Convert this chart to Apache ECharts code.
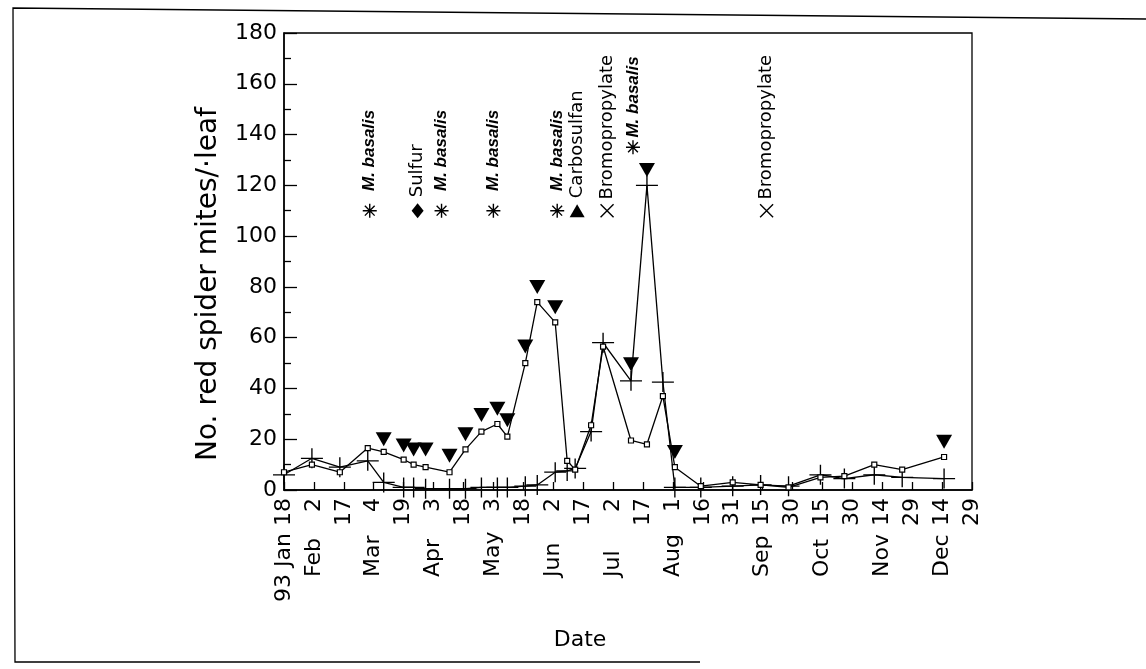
<!DOCTYPE html>
<html>
<head>
<meta charset="utf-8">
<script src="https://cdn.jsdelivr.net/npm/echarts@6/dist/echarts.min.js"></script>
<style>
  html, body { margin: 0; padding: 0; background: #fff; }
  #chart { width: 1146px; height: 669px; }
</style>
</head>
<body>
<div id="chart"></div>
<script>
// Sampling dates in 1993 (MM-DD)
const sampleDates = ['01-18','02-01','02-15','03-01','03-09','03-19','03-24','03-30','04-11','04-19',
  '04-27','05-05','05-10','05-19','05-25','06-03','06-09','06-13','06-21','06-27',
  '07-11','07-19','07-27','08-02','08-15','08-31','09-14','09-28','10-14','10-26',
  '11-10','11-24','12-15'];
// Mites per leaf, open-square series
const squareCounts = [7, 10, 7, 16.5, 15, 12, 10, 9, 7, 16,
  23, 26, 21, 50, 74, 66, 11.5, 8, 25.5, 56.5,
  19.5, 18, 37, 9, 1.5, 3, 2, 1, 5, 5.5,
  10, 8, 13];
// Mites per leaf, plus-sign series
const plusCounts = [6, 12.5, 9, 11.5, 3, 1, 1, 0.5, 0.5, 0.5,
  1, 1, 1, 1.5, 2, 7, 7.5, 8.5, 23, 58,
  43, 120, 42.5, 1, 1, 1.5, 2, 1.5, 6, 4.5,
  6, 5, 4.5];
// Filled down-triangles
const triangleDates = ['03-09','03-19','03-24','03-30','04-11','04-19','04-27','05-05','05-10','05-19',
  '05-25','06-03','07-11','07-19','08-02','12-15'];
const triangleCounts = [20, 17.5, 16, 16, 13.5, 22, 29.5, 32, 27.5, 56.5,
  80, 72, 49.5, 126, 15, 19];
// Treatments: release of M. basalis and sprays
const eventDates = ['03-02','03-26','04-07','05-03','06-04','06-14','06-29','07-12','09-17'];
const eventNames = ['M. basalis','Sulfur','M. basalis','M. basalis','M. basalis','Carbosulfan','Bromopropylate','M. basalis','Bromopropylate'];
const eventKinds = ['star','diamond','star','star','star','triangle','cross','star','cross'];
const eventLevels = [110, 110, 110, 110, 110, 110, 110, 135, 110];
// Tick labels every 15 days from Jan 18
const dayTickLabels = ['93 Jan 18','2','17','4','19','3','18','3','18','2','17','2','17','1','16','31','15','30','15','30','14','29','14','29'];
const monthTickLabels = ['','Feb','','Mar','','Apr','','May','','Jun','','Jul','','Aug','','','Sep','','Oct','','Nov','','Dec',''];

const START = Date.UTC(1993, 0, 18);
function dayOf(md) {
  const [m, d] = md.split('-').map(Number);
  return (Date.UTC(1993, m - 1, d) - START) / 86400000;
}

const FONT = 'DejaVu Sans';
const INK = '#000';
const plusPath = 'path://M0,10L22,10M11,0L11,20';
const starPath = 'path://M0,10L20,10M10,0L10,20M3,3L17,17M17,3L3,17';
const crossPath = 'path://M0,0L20,20M20,0L0,20';

const squareData = sampleDates.map((d, i) => [dayOf(d), squareCounts[i]]);
const plusData = sampleDates.map((d, i) => [dayOf(d), plusCounts[i]]);
const triangleData = triangleDates.map((d, i) => [dayOf(d), triangleCounts[i]]);

const symbolFor = {
  star: { symbol: starPath, symbolSize: 14, itemStyle: { color: 'transparent', borderColor: INK, borderWidth: 1.4, opacity: 1 } },
  cross: { symbol: crossPath, symbolSize: 13, itemStyle: { color: 'transparent', borderColor: INK, borderWidth: 1.4, opacity: 1 } },
  diamond: { symbol: 'diamond', symbolSize: [12, 15], itemStyle: { color: INK, opacity: 1 } },
  triangle: { symbol: 'triangle', symbolSize: [15, 13], itemStyle: { color: INK, opacity: 1 } }
};
const eventData = eventDates.map((d, i) => {
  const k = eventKinds[i];
  const italic = eventNames[i] === 'M. basalis';
  return Object.assign({
    name: eventNames[i],
    value: [dayOf(d), eventLevels[i]],
    label: {
      show: true,
      formatter: '{b}',
      position: 'top',
      rotate: 90,
      align: 'left',
      verticalAlign: 'middle',
      distance: italic ? (eventLevels[i] > 120 ? 2 : 12) : (k === 'cross' ? 4 : 6),
      color: INK,
      fontFamily: italic ? 'Liberation Sans' : FONT,
      fontStyle: italic ? 'italic' : 'normal',
      fontWeight: italic ? 'bold' : 'normal',
      fontSize: italic ? 17 : 18
    }
  }, symbolFor[k]);
});

const chart = echarts.init(document.getElementById('chart'), null, { renderer: 'canvas' });
chart.setOption({
  animation: false,
  backgroundColor: '#fff',
  grid: {
    left: 284, right: 174, top: 33, bottom: 179,
    show: true, borderColor: INK, borderWidth: 1.3, backgroundColor: 'transparent',
    outerBoundsMode: 'none'
  },
  xAxis: [{
    type: 'value', position: 'bottom', min: 0, max: 345, interval: 15,
    axisLine: { show: true, lineStyle: { color: INK, width: 1.5 } },
    axisTick: { show: true, inside: true, length: 8, lineStyle: { color: INK, width: 1.3 } },
    splitLine: { show: false },
    axisLabel: {
      rotate: 90, margin: 8, color: INK, fontFamily: FONT, fontSize: 22,
      formatter: v => dayTickLabels[Math.round(v / 15)] || ''
    }
  }, {
    type: 'value', position: 'bottom', min: 0, max: 345, interval: 15,
    axisLine: { show: false }, axisTick: { show: false }, splitLine: { show: false },
    axisLabel: {
      rotate: 90, margin: 87, align: 'left', color: INK, fontFamily: FONT, fontSize: 22,
      formatter: v => monthTickLabels[Math.round(v / 15)] || ''
    }
  }],
  yAxis: {
    type: 'value', min: 0, max: 180, interval: 20,
    axisLine: { show: true, lineStyle: { color: INK, width: 1.5 } },
    axisTick: { show: true, inside: true, length: 13, lineStyle: { color: INK, width: 1.3 } },
    minorTick: { show: true, splitNumber: 2, length: 7, lineStyle: { color: INK, width: 1.3 } },
    splitLine: { show: false },
    axisLabel: { margin: 7, color: INK, fontFamily: FONT, fontSize: 22 }
  },
  graphic: [
    {
      type: 'polyline', silent: true,
      shape: { points: [[1146, 19], [13, 8], [15, 662], [700, 662]] },
      style: { stroke: INK, lineWidth: 1.3, fill: null }
    },
    {
      type: 'text', silent: true, x: 209, y: 284, rotation: Math.PI / 2,
      style: { text: 'No. red spider mites/·leaf', fill: INK, font: '28px "DejaVu Sans"', align: 'center', verticalAlign: 'middle' }
    },
    {
      type: 'text', silent: true, x: 580, y: 640,
      style: { text: 'Date', fill: INK, font: '22px "DejaVu Sans"', align: 'center', verticalAlign: 'middle' }
    }
  ],
  series: [
    {
      type: 'line', name: 'squares', data: squareData, xAxisIndex: 0,
      symbol: 'rect', symbolSize: 5, showAllSymbol: true,
      lineStyle: { color: INK, width: 1.3 },
      itemStyle: { color: '#fff', borderColor: INK, borderWidth: 1.2 },
      z: 3
    },
    {
      type: 'line', name: 'plus', data: plusData, xAxisIndex: 0,
      symbol: plusPath, symbolSize: [22, 20], showAllSymbol: true,
      lineStyle: { color: INK, width: 1.3 },
      itemStyle: { color: 'transparent', borderColor: INK, borderWidth: 1.3 },
      z: 2
    },
    {
      type: 'scatter', name: 'triangles', data: triangleData, xAxisIndex: 0,
      symbol: 'triangle', symbolRotate: 180, symbolSize: [16, 14],
      itemStyle: { color: INK, opacity: 1 }, z: 4
    },
    {
      type: 'scatter', name: 'events', data: eventData, xAxisIndex: 0, z: 4
    }
  ]
});
</script>
</body>
</html>
